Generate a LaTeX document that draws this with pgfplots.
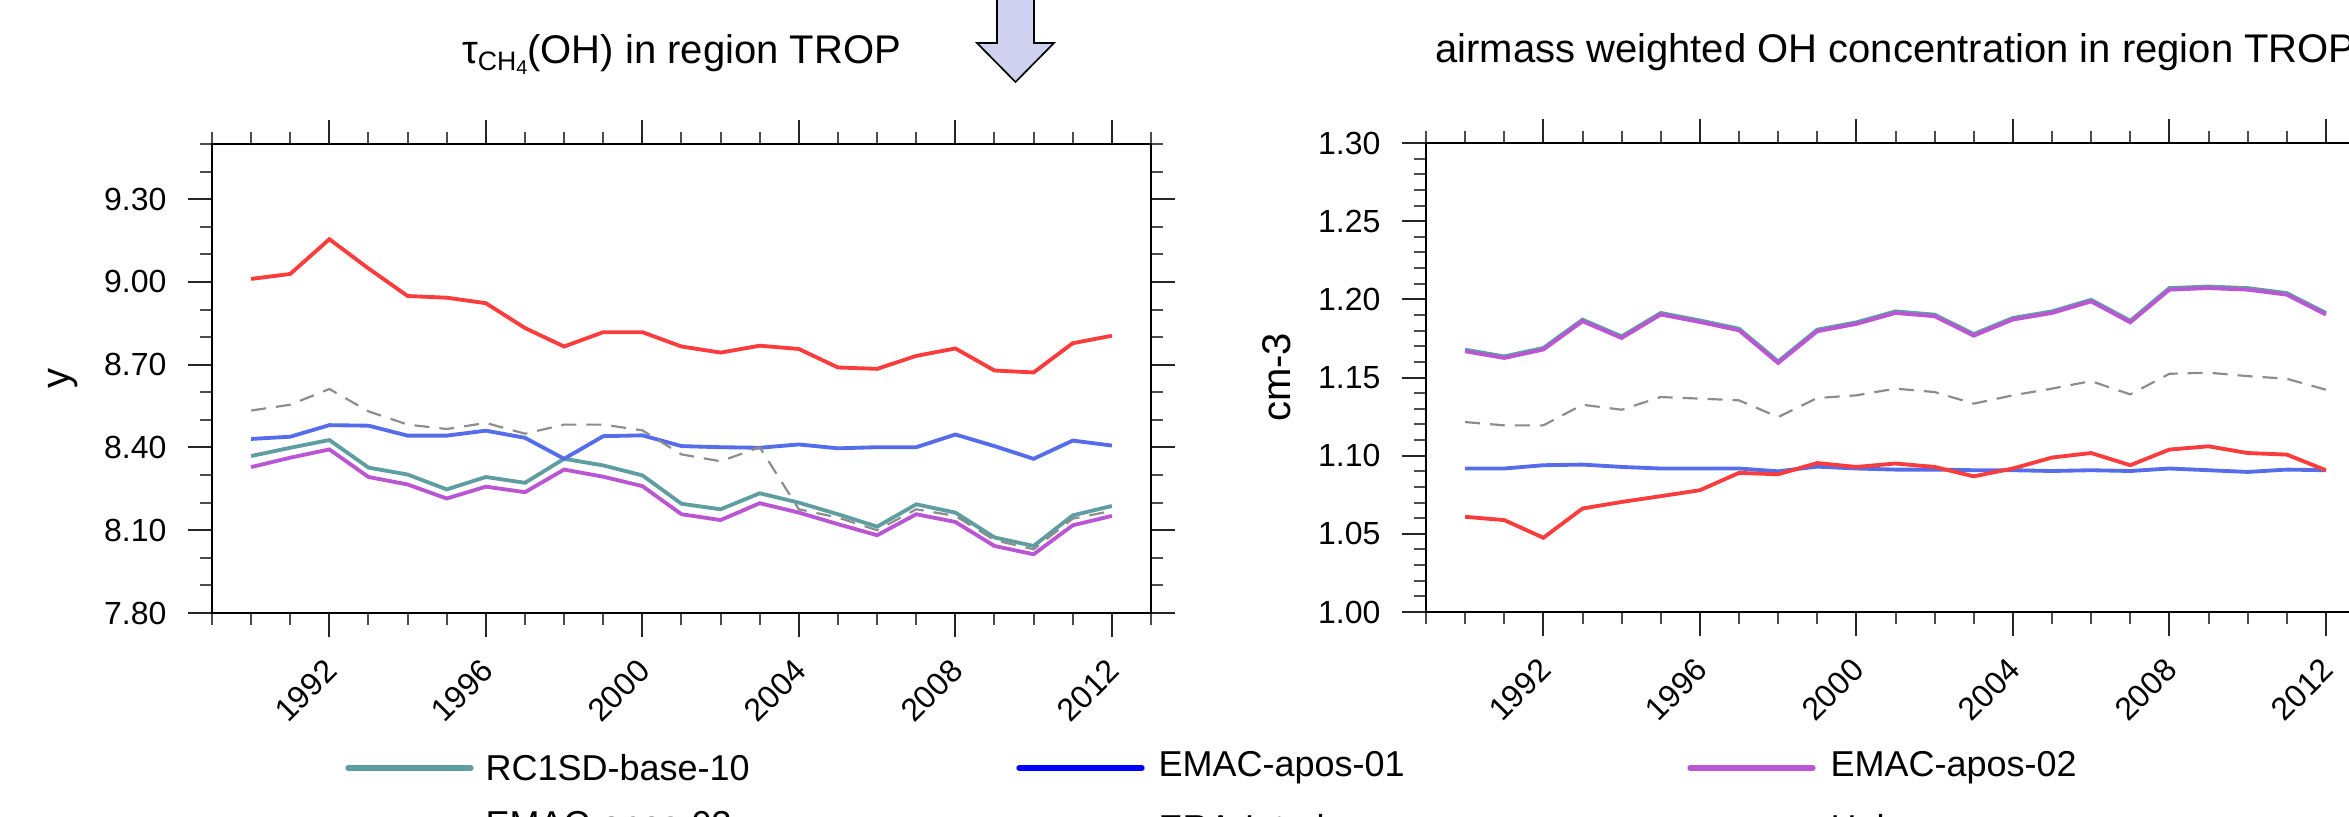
\documentclass[border=0pt]{standalone}
\usepackage{pgfplots}
\pgfplotsset{compat=1.18}
\usepackage{pgfplotstable}
\usepackage{fontspec}
\setmainfont{Liberation Sans}

\definecolor{cteal}{RGB}{95,158,160}
\definecolor{cblueplot}{RGB}{85,108,235}
\definecolor{cbluelegend}{RGB}{0,0,255}
\definecolor{cpurple}{RGB}{186,85,211}
\definecolor{cred}{RGB}{250,60,60}
\definecolor{cgray}{RGB}{140,140,140}
\definecolor{arrowfill}{RGB}{208,208,240}

\pgfplotstableread{
year teal blue purple red gray
1990 8.369 8.431 8.329 9.011 8.534
1991 8.399 8.439 8.363 9.029 8.555
1992 8.427 8.481 8.393 9.155 8.612
1993 8.327 8.479 8.293 9.049 8.531
1994 8.302 8.443 8.266 8.949 8.483
1995 8.248 8.443 8.215 8.943 8.467
1996 8.293 8.461 8.258 8.923 8.489
1997 8.272 8.435 8.238 8.833 8.450
1998 8.359 8.359 8.320 8.766 8.483
1999 8.335 8.441 8.294 8.818 8.483
2000 8.299 8.444 8.260 8.818 8.462
2001 8.196 8.405 8.158 8.766 8.375
2002 8.176 8.401 8.137 8.744 8.350
2003 8.234 8.399 8.198 8.769 8.401
2004 8.200 8.411 8.164 8.757 8.176
2005 8.158 8.397 8.122 8.690 8.146
2006 8.113 8.401 8.082 8.685 8.100
2007 8.194 8.401 8.158 8.732 8.176
2008 8.164 8.447 8.130 8.759 8.152
2009 8.074 8.405 8.043 8.679 8.064
2010 8.043 8.359 8.013 8.672 8.031
2011 8.154 8.425 8.118 8.778 8.142
2012 8.188 8.407 8.152 8.805 8.170
}\tauTable

\pgfplotstableread{
year teal blue purple red gray
1990 1.1678 1.0918 1.1668 1.0609 1.1215
1991 1.1635 1.0918 1.1625 1.0588 1.1194
1992 1.1689 1.0939 1.1679 1.0475 1.1194
1993 1.1870 1.0943 1.1860 1.0662 1.1326
1994 1.1763 1.0928 1.1753 1.0704 1.1294
1995 1.1913 1.0918 1.1903 1.0741 1.1375
1996 1.1865 1.0918 1.1855 1.0779 1.1365
1997 1.1812 1.0918 1.1802 1.0890 1.1354
1998 1.1603 1.0900 1.1593 1.0881 1.1247
1999 1.1806 1.0930 1.1796 1.0953 1.1369
2000 1.1853 1.0918 1.1843 1.0928 1.1386
2001 1.1923 1.0911 1.1913 1.0950 1.1429
2002 1.1902 1.0911 1.1892 1.0928 1.1407
2003 1.1778 1.0907 1.1768 1.0868 1.1333
2004 1.1881 1.0907 1.1871 1.0918 1.1386
2005 1.1923 1.0902 1.1913 1.0988 1.1429
2006 1.1997 1.0907 1.1987 1.1017 1.1477
2007 1.1863 1.0902 1.1853 1.0939 1.1392
2008 1.2072 1.0918 1.2062 1.1039 1.1524
2009 1.2082 1.0907 1.2072 1.1060 1.1531
2010 1.2072 1.0896 1.2062 1.1017 1.1509
2011 1.2040 1.0911 1.2030 1.1007 1.1492
2012 1.1913 1.0907 1.1903 1.0907 1.1422
}\ohTable

\pgfplotsset{
  ncl/.style={
    scale only axis, width=281.7pt, height=140.7pt,
    xmin=1989, xmax=2013,
    xtick={1992,1996,2000,2004,2008,2012},
    minor xtick={1989,1990,...,2013},
    xtick pos=both, ytick pos=both,
    tick align=outside,
    major tick length=7.2pt, minor tick length=3.6pt,
    axis line style={line width=0.7pt},
    every major tick/.append style={black!85, line width=0.6pt},
    every minor tick/.append style={black!70, line width=0.6pt},
    /pgf/number format/assume math mode=true,
    xticklabel style={font=\fontsize{9.6}{10}\selectfont, /pgf/number format/set thousands separator={}, inner sep=0pt, yshift=-8.4pt, xshift=0.6pt, rotate=45, anchor=east},
    yticklabel style={font=\fontsize{9.6}{10}\selectfont, inner sep=0pt, anchor=east, xshift=-6.3pt, /pgf/number format/fixed, /pgf/number format/fixed zerofill, /pgf/number format/precision=2},
    title style={at={(0.5,1)}, anchor=base, yshift=18.3pt, font=\fontsize{12}{14}\selectfont},
    ylabel style={at={(axis description cs:-0.1587,0.5)}, anchor=center, rotate=0, font=\fontsize{12}{14}\selectfont},
  },
  pteal/.style={cteal, line width=1.15pt},
  pblue/.style={cblueplot, line width=1.15pt},
  ppurple/.style={cpurple, line width=1.15pt},
  pred/.style={cred, line width=1.15pt},
  pgray/.style={cgray, line width=0.65pt, dash pattern=on 4.5pt off 3pt},
}

\begin{document}
\begin{tikzpicture}
\begin{axis}[ncl, at={(0pt,0pt)}, anchor=south west,
  ymin=7.8, ymax=9.5,
  ytick={7.8,8.1,8.4,8.7,9.0,9.3},
  minor ytick={7.9,8.0,8.2,8.3,8.5,8.6,8.8,8.9,9.1,9.2,9.4,9.5},
  title={τ\raisebox{-0.35ex}{\fontsize{8}{9}\selectfont CH\raisebox{-0.3ex}{\fontsize{6}{7}\selectfont 4}}(OH) in region TROP},
  ylabel={y}]
\addplot[pteal] table[x=year,y=teal]{\tauTable};
\addplot[pblue] table[x=year,y=blue]{\tauTable};
\addplot[ppurple] table[x=year,y=purple]{\tauTable};
\addplot[pred] table[x=year,y=red]{\tauTable};
\addplot[pgray] table[x=year,y=gray]{\tauTable};
\end{axis}

\begin{axis}[ncl, at={(364.2pt,0.3pt)}, anchor=south west,
  ymin=1.0, ymax=1.3,
  ytick={1.00,1.05,1.10,1.15,1.20,1.25,1.30},
  minor ytick={1.01,1.02,1.03,1.04,1.06,1.07,1.08,1.09,1.11,1.12,1.13,1.14,1.16,1.17,1.18,1.19,1.21,1.22,1.23,1.24,1.26,1.27,1.28,1.29},
  title={airmass weighted OH concentration in region TROP},
  ylabel={cm-3}]
\addplot[pteal] table[x=year,y=teal]{\ohTable};
\addplot[pblue] table[x=year,y=blue]{\ohTable};
\addplot[ppurple] table[x=year,y=purple]{\ohTable};
\addplot[pred] table[x=year,y=red]{\ohTable};
\addplot[pgray] table[x=year,y=gray]{\ohTable};
\end{axis}

% arrow annotation
\draw[fill=arrowfill, line width=0.5pt, line join=miter]
  (235.5pt,188pt) -- (235.5pt,171pt) -- (229.5pt,171pt) -- (241.05pt,159.3pt)
  -- (252.6pt,171pt) -- (246.6pt,171pt) -- (246.6pt,188pt);

% legend
\begin{scope}[every node/.style={anchor=west, inner sep=0pt, font=\fontsize{10.8}{12}\selectfont}]
\draw[cteal, line width=1.6pt, line cap=round] (40.8pt,-46.5pt) -- (77.7pt,-46.5pt);
\node at (81.9pt,-46.5pt) {RC1SD-base-10};
\draw[cbluelegend, line width=1.6pt, line cap=round] (242.1pt,-46.5pt) -- (279pt,-46.5pt);
\node at (283.8pt,-46.5pt) {EMAC-apos-01};
\draw[cpurple, line width=1.6pt, line cap=round] (443.4pt,-46.5pt) -- (480.3pt,-46.5pt);
\node at (485.4pt,-46.5pt) {EMAC-apos-02};
\node at (81.9pt,-64.5pt) {EMAC-apos-03};
\node at (283.8pt,-64.5pt) {ERA-Interim};
\node at (485.4pt,-64.5pt) {Holmes};
\end{scope}

\pgfresetboundingbox
\useasboundingbox (-63.6pt,-60.9pt) rectangle (641.1pt,183.9pt);
\end{tikzpicture}
\end{document}
